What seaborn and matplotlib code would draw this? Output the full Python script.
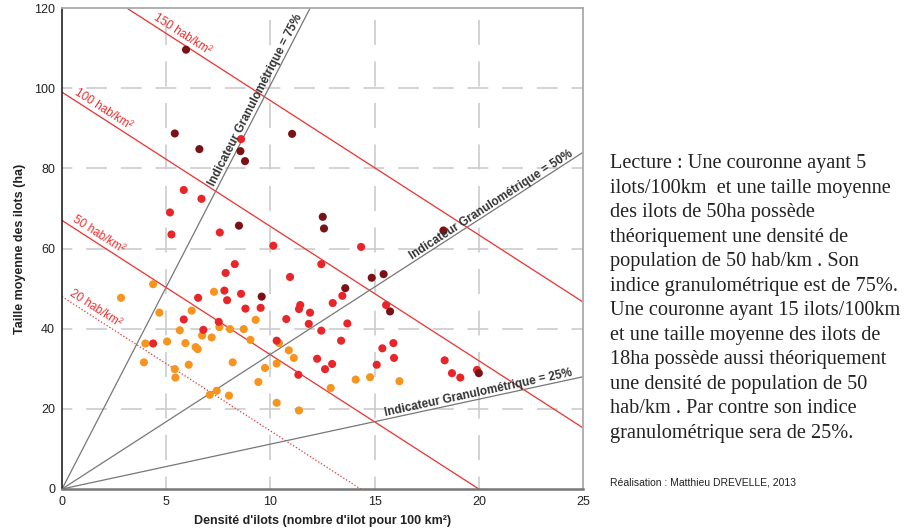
import numpy as np
import pandas as pd
import matplotlib
matplotlib.use("Agg")
import matplotlib.pyplot as plt
import seaborn as sns

# ---------------- data ----------------
dark_x = [5.95, 5.41, 6.59, 8.56, 8.78, 11.04, 8.49, 12.51, 12.57, 18.3, 9.58, 14.86, 15.43, 13.59, 15.74, 20.0]
dark_y = [109.6, 88.7, 84.8, 84.3, 81.8, 88.6, 65.7, 67.9, 65.0, 64.5, 48.0, 52.7, 53.6, 50.1, 44.3, 28.9]

red_x = [8.59, 5.84, 6.69, 5.18, 5.25, 7.57, 10.14, 14.35, 4.37, 5.84, 6.53, 6.78, 7.52, 7.79, 7.85, 7.92,
         8.29, 8.59, 8.80, 9.53, 10.30, 10.76, 10.94, 11.34, 11.37, 11.43, 11.90, 11.84, 12.24, 12.44, 12.44,
         13.45, 12.99, 15.55, 13.69, 13.39, 15.90, 15.37, 15.93, 12.96, 12.62, 15.10, 18.36, 18.71, 19.11, 19.91]
red_y = [87.3, 74.6, 72.4, 69.0, 63.5, 64.0, 60.7, 60.4, 36.3, 42.3, 47.7, 39.7, 41.7, 49.5, 53.9, 47.1,
         56.1, 48.7, 45.0, 45.2, 37.0, 42.4, 52.9, 28.5, 44.9, 45.9, 44.0, 41.2, 32.5, 56.1, 39.5,
         48.2, 46.4, 45.9, 41.3, 37.0, 36.4, 35.1, 32.7, 31.2, 29.9, 31.0, 32.1, 28.9, 27.8, 29.7]

orange_x = [2.83, 4.37, 4.67, 4.00, 3.93, 5.04, 5.41, 5.44, 5.65, 5.92, 6.08, 6.22, 6.41, 6.51, 6.72, 7.09,
            7.18, 7.29, 7.42, 7.55, 8.01, 8.06, 8.19, 8.72, 9.04, 9.29, 9.42, 9.74, 10.30, 10.30, 10.41,
            10.88, 11.12, 11.37, 12.89, 14.09, 14.78, 16.19]
orange_y = [47.7, 51.1, 44.0, 36.3, 31.6, 36.8, 29.9, 27.8, 39.6, 36.4, 31.0, 44.5, 35.4, 34.9, 38.3, 23.5,
            37.8, 49.2, 24.5, 40.4, 23.3, 39.9, 31.6, 39.9, 37.2, 42.2, 26.7, 30.2, 21.5, 31.3, 36.4,
            34.6, 32.7, 19.6, 25.2, 27.3, 27.9, 26.9]

# iso-density lines (hab/km²): labels and intercepts on the y axis, common slope
density_labels = ["150 hab/km²", "100 hab/km²", "50 hab/km²", "20 hab/km²"]
density_intercepts = [130.4, 99.0, 67.0, 48.0]
density_slope = -3.35

# granulometric indicator lines through origin
gran_labels = ["Indicateur Granulométrique = 75%", "Indicateur Granulométrique = 50%",
               "Indicateur Granulométrique = 25%"]
gran_slopes = [10.08, 3.36, 1.12]

x_ticks = [0, 5, 10, 15, 20, 25]
y_ticks = [0, 20, 40, 60, 80, 100, 120]

lecture_text = ("Lecture : Une couronne ayant 5\n"
                "ilots/100km  et une taille moyenne\n"
                "des ilots de 50ha possède\n"
                "théoriquement une densité de\n"
                "population de 50 hab/km . Son\n"
                "indice granulométrique est de 75%.\n"
                "Une couronne ayant 15 ilots/100km\n"
                "et une taille moyenne des ilots de\n"
                "18ha possède aussi théoriquement\n"
                "une densité de population de 50\n"
                "hab/km . Par contre son indice\n"
                "granulométrique sera de 25%.")
credit_text = "Réalisation : Matthieu DREVELLE, 2013"

# ---------------- style ----------------
sns.set_style("white")
plt.rcParams["font.family"] = ["Liberation Sans", "DejaVu Sans"]

fig = plt.figure(figsize=(9.15, 5.31), dpi=100)
ax = fig.add_axes([0.0678, 0.0791, 0.5694, 0.9058])

XMAX, YMAX = 25, 120
ax.set_xlim(0, XMAX)
ax.set_ylim(0, YMAX)

# grid with long dashes, crossing at intersections
ax.set_axisbelow(True)
for xv in x_ticks[1:-1]:
    ax.axvline(xv, color="#cccccc", lw=1.2, zorder=0,
               linestyle=(7.5, (15, 9.9)))
for yv in y_ticks[1:-1]:
    ax.axhline(yv, color="#cccccc", lw=1.2, zorder=0,
               linestyle=(6.3, (12.5, 8.3)))

RED = "#ee2f2f"
xs = np.linspace(0, XMAX, 400)

# density lines
for lab, b in zip(density_labels, density_intercepts):
    ls = ":" if lab.startswith("20") else "-"
    ax.plot(xs, b + density_slope * xs, color=RED, lw=0.9, ls=ls, zorder=2)

# granulometric lines
for lab, m in zip(gran_labels, gran_slopes):
    ax.plot(xs, m * xs, color="#777777", lw=0.9, zorder=2)

# scatter
df = pd.DataFrame({
    "x": orange_x + red_x + dark_x,
    "y": orange_y + red_y + dark_y,
    "cls": ["orange"] * len(orange_x) + ["red"] * len(red_x) + ["dark"] * len(dark_x),
})
pal = {"orange": "#f7941d", "red": "#e8262a", "dark": "#7a1215"}
sns.scatterplot(data=df, x="x", y="y", hue="cls", palette=pal, s=34, linewidth=0,
                legend=False, ax=ax, zorder=3)

# rotation helper (screen angle of a data slope)
def screen_angle(m):
    p0 = ax.transData.transform((0, 0))
    p1 = ax.transData.transform((1, m))
    return np.degrees(np.arctan2(p1[1] - p0[1], p1[0] - p0[0]))

# density labels
dens_label_x = [5.6, 1.82, 1.60, 1.45]
for lab, b, xl in zip(density_labels, density_intercepts, dens_label_x):
    ax.text(xl, b + density_slope * xl + 0.6, lab, color=RED, fontsize=8.5,
            rotation=screen_angle(density_slope), rotation_mode="anchor",
            ha="center", va="bottom", zorder=4)

# granulometric labels
gran_label_x = [9.55, 20.75, 20.05]
for lab, m, xl in zip(gran_labels, gran_slopes, gran_label_x):
    ax.text(xl, m * xl, lab, color="#333333", fontsize=8.5, fontweight="bold",
            rotation=screen_angle(m), rotation_mode="anchor",
            ha="center", va="bottom", zorder=4)

# axes styling
ax.set_xticks(x_ticks)
ax.set_yticks(y_ticks)
ax.set_xticklabels([str(v) for v in x_ticks])
ax.set_yticklabels([str(v) for v in y_ticks])
ax.tick_params(axis="both", length=3, width=0.8, color="#777777", labelsize=9,
               labelcolor="#222222", pad=2)
ax.set_xlabel("Densité d'ilots (nombre d'ilot pour 100 km²)", fontsize=9, fontweight="bold",
              color="#222222", labelpad=5)
ax.set_ylabel("Taille moyenne des ilots (ha)", fontsize=9, fontweight="bold",
              color="#222222", labelpad=6)

for side in ["top", "right"]:
    ax.spines[side].set_visible(True)
    ax.spines[side].set_color("#aaaaaa")
    ax.spines[side].set_linewidth(1.3)
ax.spines["left"].set_color("#111111")
ax.spines["left"].set_linewidth(1.1)
ax.spines["bottom"].set_color("#777777")
ax.spines["bottom"].set_linewidth(1.8)

# right-hand explanatory text
fig.text(0.667, 0.710, lecture_text, fontsize=14.6, family=["Liberation Serif", "DejaVu Serif"],
         color="#222222", va="top", ha="left", linespacing=1.395)
fig.text(0.667, 0.092, credit_text, fontsize=7.5, color="#222222", va="center", ha="left")

fig.savefig("out.png", dpi=100)
